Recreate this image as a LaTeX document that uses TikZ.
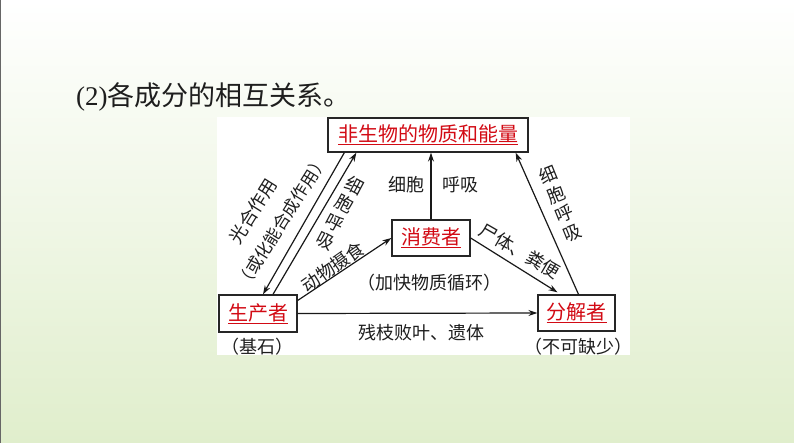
\documentclass[tikz,border=0pt]{standalone}
\usepackage{fontspec}
\setmainfont{Liberation Serif}
\newfontfamily\cjk{Noto Sans CJK SC}
\usetikzlibrary{arrows.meta,calc}
\definecolor{kred}{RGB}{210,10,20}
\definecolor{ktext}{RGB}{30,30,30}
\definecolor{bgbottom}{RGB}{224,238,204}
\definecolor{bgmid}{RGB}{246,249,241}
\tikzset{
  box/.style={draw=black!85, line width=1.3pt, fill=white, inner sep=0pt, text=kred,
    font=\cjk\fontsize{20}{24}\selectfont},
  arr/.style={draw=black!90, line width=1.2pt, -{Stealth[length=9pt,width=6pt]}},
  lab/.style={text=ktext, inner sep=0pt, font=\cjk\fontsize{18}{21}\selectfont, align=center},
}
\newcommand{\redul}[1]{\underline{#1}}
\begin{document}
\begin{tikzpicture}[x=1pt,y=-1pt]
\useasboundingbox (0,0) rectangle (794,443);
% background
\shade[top color=white, middle color=bgmid, bottom color=bgbottom] (0,0) rectangle (794,443);
\draw[black!60, line width=1pt] (0.5,0) -- (0.5,443);
\fill[white] (217,117) rectangle (630,355);
% title
\node[anchor=west, inner sep=0pt, text=ktext] (title) at (76,97)
  {\fontsize{27}{30}\selectfont (2)\cjk 各成分的相互关系。};
% boxes
\node[box, minimum width=200pt, minimum height=34pt] (top) at (428,135) {\redul{非生物的物质和能量}};
\node[box, minimum width=78pt, minimum height=36pt] (cons) at (431,238) {\redul{消费者}};
\node[box, minimum width=78pt, minimum height=37pt] (prod) at (258,313.5) {\redul{生产者}};
\node[box, minimum width=77pt, minimum height=36pt] (dec) at (576.5,313) {\redul{分解者}};
% arrows
\draw[arr] (prod.east) -- (dec.west);
\draw[arr] (cons.north) -- (cons.north |- top.south);
\draw[arr] (cons.east) -- ($(dec.north)+(-19,-2)$);
\draw[arr] ($(dec.north)+(2,0)$) -- ($(top.south east)+(-13,0)$);
\draw[arr] ($(top.south west)+(17,0)$) -- ($(prod.north)+(5,0)$);
\draw[arr] ($(prod.north)+(15,0)$) -- ($(top.south west)+(29,0)$);
\draw[arr] ($(prod.east)+(0,-13)$) -- (cons.west);
% labels
\node[lab, rotate=58] (l1) at (253,211) {光合作用};
\node[lab, rotate=58, font=\cjk\fontsize{17}{20}\selectfont] (l2) at (282,222) {（或化能合成作用）};
\node[lab, rotate=-28] (l3) at (340,213) {细\\胞\\呼\\吸};
\node[lab, rotate=35] (l4) at (333,267) {动物摄食};
\node[lab] (l5) at (406,185) {细胞};
\node[lab] (l6) at (460,185) {呼吸};
\node[lab, rotate=22] (l7) at (560,204) {细\\胞\\呼\\吸};
\node[lab, rotate=-30] (l8) at (520,251) {尸体、粪便};
\node[lab] (l9) at (429,283) {（加快物质循环）};
\node[lab] (l10) at (421,333) {残枝败叶、遗体};
\node[lab] (l11) at (257,347) {（基石）};
\node[lab] (l12) at (578,347) {（不可缺少）};
\end{tikzpicture}
\end{document}
